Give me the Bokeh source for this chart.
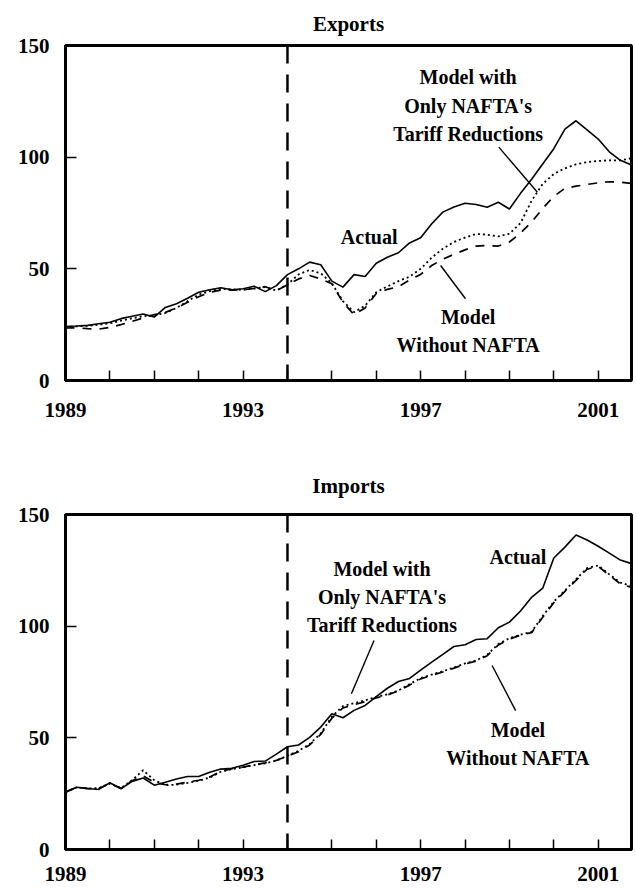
from bokeh.plotting import figure
from bokeh.models import FixedTicker, Span, Range1d, ColumnDataSource
from bokeh.layouts import column
from bokeh.embed import file_html
from bokeh.resources import INLINE
from bokeh.core.properties import value

# quarterly periods (1989Q1 .. 2001Q4)
quarters = [1989.00, 1989.25, 1989.50, 1989.75, 1990.00, 1990.25, 1990.50, 1990.75,
            1991.00, 1991.25, 1991.50, 1991.75, 1992.00, 1992.25, 1992.50, 1992.75,
            1993.00, 1993.25, 1993.50, 1993.75, 1994.00, 1994.25, 1994.50, 1994.75,
            1995.00, 1995.25, 1995.50, 1995.75, 1996.00, 1996.25, 1996.50, 1996.75,
            1997.00, 1997.25, 1997.50, 1997.75, 1998.00, 1998.25, 1998.50, 1998.75,
            1999.00, 1999.25, 1999.50, 1999.75, 2000.00, 2000.25, 2000.50, 2000.75,
            2001.00, 2001.25, 2001.50, 2001.75]

exp_actual = [24.2, 24.4, 24.7, 25.4, 26.1, 27.7, 28.8, 29.8, 28.4, 32.7,
              34.4, 36.8, 39.5, 40.6, 41.5, 40.6, 41.1, 42.2, 39.8, 42.5,
              47.4, 50.0, 53.0, 51.8, 44.5, 41.8, 47.4, 46.6, 52.5, 55.2,
              57.2, 61.6, 63.9, 70.2, 75.4, 77.7, 79.4, 78.8, 77.6, 79.8,
              76.8, 83.8, 90.1, 96.9, 103.8, 112.6, 116.3, 112.2, 108.1, 102.4,
              98.6, 96.5]
exp_tariff_only = [24.0, 24.2, 24.5, 25.0, 25.6, 26.8, 27.8, 28.8, 29.3, 30.2,
                   32.5, 35.5, 38.5, 40.0, 41.0, 40.8, 40.6, 41.2, 41.8, 40.3,
                   43.0, 47.5, 49.5, 48.0, 43.5, 35.5, 30.6, 33.5, 39.5, 42.1,
                   44.5, 46.5, 50.0, 55.0, 59.0, 62.0, 64.0, 65.6, 65.3, 64.5,
                   65.7, 70.5, 80.5, 88.0, 92.5, 95.0, 96.8, 97.8, 98.3, 98.6,
                   98.6, 99.5]
exp_without = [23.5, 23.6, 23.2, 23.0, 23.8, 25.0, 26.5, 28.0, 29.5, 30.5,
               32.5, 35.0, 37.5, 39.5, 40.5, 40.5, 40.6, 41.2, 42.0, 40.3,
               42.8, 45.5, 47.0, 45.5, 43.3, 35.0, 29.5, 32.5, 39.0, 40.8,
               42.0, 45.0, 47.5, 51.5, 54.3, 56.5, 58.5, 60.2, 60.4, 60.2,
               62.0, 66.0, 71.0, 77.0, 82.5, 86.0, 87.0, 87.8, 88.5, 89.0,
               88.8, 88.2]

imp_actual = [25.7, 27.9, 27.3, 26.9, 29.9, 27.2, 30.5, 32.0, 28.8, 30.1,
              31.6, 32.7, 32.7, 34.6, 36.0, 36.4, 37.7, 39.4, 39.6, 42.7,
              46.0, 46.8, 50.2, 54.8, 60.8, 59.0, 62.3, 64.5, 68.5, 72.2,
              75.2, 76.6, 80.3, 83.9, 87.4, 90.9, 91.7, 94.0, 94.4, 99.3,
              101.8, 106.8, 112.9, 117.0, 130.5, 135.4, 140.8, 138.6, 135.8, 132.7,
              129.6, 128.0]
imp_tariff_only = [25.7, 27.8, 27.3, 27.5, 29.5, 27.5, 31.0, 35.5, 31.0, 28.8,
                   29.0, 29.8, 30.8, 32.2, 34.8, 36.0, 36.8, 37.8, 38.6, 39.8,
                   42.0, 44.2, 47.2, 52.0, 59.5, 64.2, 65.5, 66.8, 68.3, 69.5,
                   71.2, 74.0, 76.8, 78.3, 79.8, 81.5, 83.3, 84.6, 87.2, 92.0,
                   94.6, 96.2, 97.5, 104.5, 111.0, 116.0, 121.0, 126.0, 127.2, 123.2,
                   119.5, 118.0]
imp_without = [25.7, 27.8, 27.3, 27.3, 29.6, 27.4, 30.8, 33.0, 30.0, 29.0,
               29.3, 30.2, 31.0, 32.5, 35.0, 36.2, 36.9, 37.9, 38.8, 39.9,
               41.8, 43.8, 46.8, 51.5, 58.8, 63.4, 64.8, 66.2, 67.9, 69.2,
               71.0, 73.6, 76.4, 78.0, 79.5, 81.2, 83.0, 84.4, 86.8, 91.6,
               94.2, 96.0, 97.1, 104.0, 110.5, 115.6, 120.5, 125.5, 126.8, 122.8,
               118.9, 117.3]

year_ticks = [1989, 1990, 1991, 1992, 1993, 1994, 1995, 1996, 1997, 1998, 1999, 2000, 2001]
year_labels = {1989: "1989", 1993: "1993", 1997: "1997", 2001: "2001"}
value_ticks = [0, 50, 100, 150]
nafta_start = 1994

exp_notes = ["Model with", "Only NAFTA's", "Tariff Reductions", "Model", "Without NAFTA", "Actual"]
exp_note_x = [1998.07, 1998.07, 1998.07, 1998.07, 1998.07, 1995.84]
exp_note_y = [135.7, 123.1, 110.5, 28.3, 15.7, 64.2]
exp_lead_x0 = [1998.76, 1997.45]
exp_lead_y0 = [104.5, 51.5]
exp_lead_x1 = [1999.63, 1998.01]
exp_lead_y1 = [84.3, 36.6]

imp_notes = ["Actual", "Model with", "Only NAFTA's", "Tariff Reductions", "Model", "Without NAFTA"]
imp_note_x = [1999.19, 1996.13, 1996.13, 1996.13, 1999.19, 1999.19]
imp_note_y = [130.9, 125.6, 113.1, 100.5, 53.6, 41.1]
imp_lead_x0 = [1995.95, 1998.61]
imp_lead_y0 = [93.6, 82.4]
imp_lead_x1 = [1995.44, 1999.14]
imp_lead_y1 = [69.7, 62.2]

FONT = "Liberation Serif"


def panel(title, actual, tariff_only, without, notes, nx, ny, lx0, ly0, lx1, ly1,
          height, border_top, border_bottom, label_standoff, title_standoff):
    p = figure(width=636, height=height, output_backend="svg", toolbar_location=None,
               x_range=Range1d(1989, 2001.75), y_range=Range1d(0, 150),
               min_border_left=65, min_border_right=5,
               min_border_top=border_top, min_border_bottom=border_bottom,
               title=title)
    p.title.align = "center"
    p.title.text_font = FONT
    p.title.text_font_style = "bold"
    p.title.text_font_size = "21px"
    p.title.text_color = "black"
    p.title.standoff = title_standoff

    p.xgrid.visible = False
    p.ygrid.visible = False
    p.background_fill_color = "white"
    p.border_fill_color = "white"
    p.outline_line_color = "black"
    p.outline_line_width = 3
    p.outline_line_alpha = 1

    p.xaxis.ticker = FixedTicker(ticks=year_ticks)
    p.xaxis.major_label_overrides = {y: year_labels.get(y, "") for y in year_ticks}
    p.yaxis.ticker = FixedTicker(ticks=value_ticks)
    for ax in (p.xaxis[0], p.yaxis[0]):
        ax.axis_line_color = "black"
        ax.axis_line_width = 3
        ax.major_tick_in = 11
        ax.major_tick_out = 0
        ax.major_tick_line_width = 1.5
        ax.major_tick_line_color = "black"
        ax.minor_tick_line_color = None
        ax.major_label_text_font = FONT
        ax.major_label_text_font_style = "bold"
        ax.major_label_text_font_size = "21px"
        ax.major_label_text_color = "black"
    p.xaxis.major_tick_in = 10
    p.xaxis.major_label_standoff = label_standoff
    p.yaxis.major_label_standoff = 16

    src = ColumnDataSource(dict(t=quarters, actual=actual, tariff=tariff_only, without=without))
    p.line("t", "without", source=src, line_color="black", line_width=1.7, line_dash="9 8")
    p.line("t", "tariff", source=src, line_color="black", line_width=1.8, line_dash="2 3")
    p.line("t", "actual", source=src, line_color="black", line_width=1.6)

    p.add_layout(Span(location=nafta_start, dimension="height", line_color="black",
                      line_width=2.5, line_dash="18 11"))

    p.segment(x0=lx0, y0=ly0, x1=lx1, y1=ly1, line_color="black", line_width=1.4)
    p.text(x=nx, y=ny, text=notes, text_align="center", text_baseline="middle",
           text_font=value(FONT), text_font_style="bold", text_font_size="20px",
           text_color="black")
    return p


p1 = panel("Exports", exp_actual, exp_tariff_only, exp_without,
           exp_notes, exp_note_x, exp_note_y, exp_lead_x0, exp_lead_y0, exp_lead_x1, exp_lead_y1,
           height=430, border_top=45, border_bottom=50, label_standoff=22, title_standoff=19)
p2 = panel("Imports", imp_actual, imp_tariff_only, imp_without,
           imp_notes, imp_note_x, imp_note_y, imp_lead_x0, imp_lead_y0, imp_lead_x1, imp_lead_y1,
           height=460, border_top=84, border_bottom=41, label_standoff=17, title_standoff=34)

layout = column(p1, p2, spacing=0)
open("out.html", "w").write(file_html(layout, INLINE))
